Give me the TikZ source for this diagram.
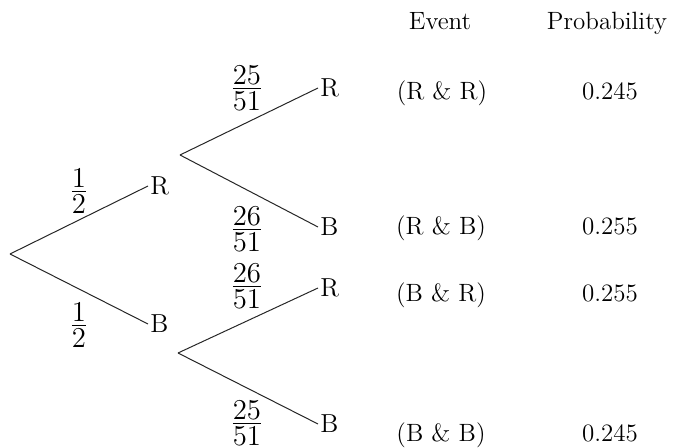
\documentclass[tikz,border=0pt]{standalone}
\usetikzlibrary{positioning}

% compact fraction with full-size digits
\newcommand{\pfrac}[2]{$\textstyle\frac{\textstyle #1}{\textstyle\rule{0pt}{0.77em}#2}$}

\begin{document}
\begin{tikzpicture}[
    x=0.5pt, y=-0.5pt,
    every node/.style={font=\fontsize{13}{15}\selectfont},
    leaf/.style={anchor=west, inner sep=1pt},
    frac/.style={inner sep=0pt, font=\fontsize{13.5}{15}\selectfont},
    cell/.style={anchor=base, inner sep=0pt, font=\fontsize{12.5}{15}\selectfont},
    branch/.style={line width=0.5pt, black!85},
  ]
  \useasboundingbox (0,0) rectangle (675,448);

  % first draw
  \coordinate (root) at (10,254);
  \node[leaf] (r1) at (148,186) {R};
  \node[leaf] (b1) at (148,324) {B};
  \draw[branch] (root) -- (r1.west);
  \draw[branch] (root) -- (b1.west);
  \node[frac] (pr1) at (79,191) {\pfrac{1}{2}};
  \node[frac] (pb1) at (79,325) {\pfrac{1}{2}};

  % second draw after red
  \coordinate (forkR) at (180,155);
  \node[leaf] (rr) at (318,88)  {R};
  \node[leaf] (rb) at (318,227) {B};
  \draw[branch] (forkR) -- (rr.west);
  \draw[branch] (forkR) -- (rb.west);
  \node[frac] (prr) at (247,88)  {\pfrac{25}{51}};
  \node[frac] (prb) at (247,229) {\pfrac{26}{51}};

  % second draw after blue
  \coordinate (forkB) at (178,353);
  \node[leaf] (br) at (318,288) {R};
  \node[leaf] (bb) at (318,424) {B};
  \draw[branch] (forkB) -- (br.west);
  \draw[branch] (forkB) -- (bb.west);
  \node[frac] (pbr) at (247,286) {\pfrac{26}{51}};
  \node[frac] (pbb) at (247,423) {\pfrac{25}{51}};

  % outcome table
  \node[cell] (hEvt)  at (440,30)  {Event};
  \node[cell] (hProb) at (607,30)  {Probability};
  \node[cell] (eRR)   at (442,100) {(R \& R)};
  \node[cell] (pRR)   at (610,100) {0.245};
  \node[cell] (eRB)   at (441,235) {(R \& B)};
  \node[cell] (pRB)   at (610,235) {0.255};
  \node[cell] (eBR)   at (441,302) {(B \& R)};
  \node[cell] (pBR)   at (610,302) {0.255};
  \node[cell] (eBB)   at (441,442) {(B \& B)};
  \node[cell] (pBB)   at (610,442) {0.245};
\end{tikzpicture}
\end{document}
